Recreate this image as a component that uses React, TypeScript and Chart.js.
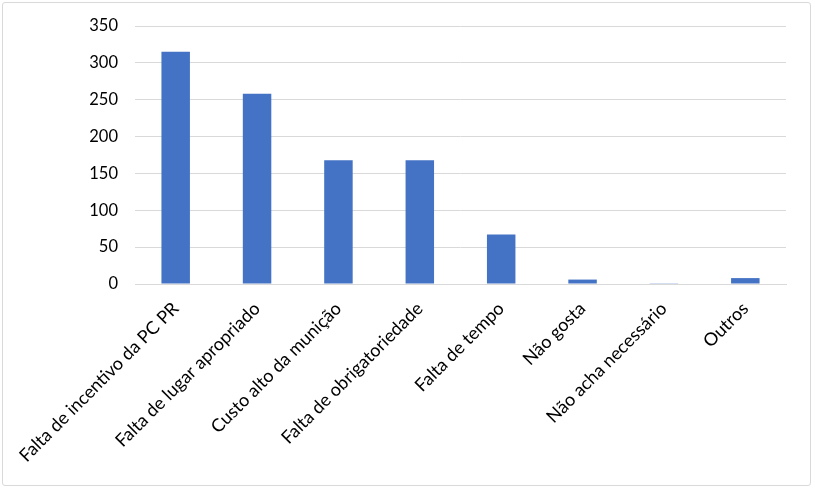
import { useEffect, useRef } from "react";
import { Chart, registerables } from "chart.js";

Chart.register(...registerables);

const categories = [
  "Falta de incentivo da PC PR",
  "Falta de lugar apropriado",
  "Custo alto da munição",
  "Falta de obrigatoriedade",
  "Falta de tempo",
  "Não gosta",
  "Não acha necessário",
  "Outros",
];
const counts = [315, 258, 168, 168, 67, 6, 1, 8];
const yTicks = [0, 50, 100, 150, 200, 250, 300, 350];

const FONT = "Lato, 'Open Sans', sans-serif";

export default function App() {
  const canvasRef = useRef<HTMLCanvasElement | null>(null);

  useEffect(() => {
    if (!canvasRef.current) {
      return;
    }

    const chart = new Chart(canvasRef.current, {
      type: "bar",
      data: {
        labels: categories,
        datasets: [
          {
            data: counts,
            backgroundColor: "#4472C4",
            barPercentage: 0.35,
            categoryPercentage: 1,
          },
        ],
      },
      options: {
        animation: false,
        responsive: false,
        maintainAspectRatio: false,
        layout: { padding: { top: 26, right: 29, bottom: 0, left: 0 } },
        plugins: {
          legend: { display: false },
          tooltip: { enabled: false },
        },
        scales: {
          x: {
            grid: { display: false, drawTicks: false },
            border: { display: true, color: "#d9d9d9", width: 1 },
            ticks: {
              autoSkip: false,
              maxRotation: 45,
              minRotation: 45,
              padding: 14,
              color: "#000",
              font: { family: FONT, size: 18 },
            },
            afterFit: (scale: any) => {
              scale.height = 207;
              scale.paddingLeft = 0;
              scale.paddingRight = 0;
            },
          },
          y: {
            min: 0,
            max: 350,
            afterBuildTicks: (scale: any) => {
              scale.ticks = yTicks.map((value) => ({ value }));
            },
            grid: { color: "#d9d9d9", drawTicks: false },
            border: { display: false },
            ticks: {
              padding: 17,
              color: "#000",
              font: { family: FONT, size: 16.5 },
            },
            afterFit: (scale: any) => {
              scale.width = 135;
              scale.paddingTop = 0;
              scale.paddingBottom = 0;
            },
          },
        },
      },
    });

    return () => {
      chart.destroy();
    };
  }, []);

  return (
    <div style={{ position: "absolute", left: 0, top: 0, width: 815, height: 491, background: "#fff" }}>
      <div
        style={{
          position: "absolute",
          left: 2,
          top: 2,
          width: 807,
          height: 482,
          border: "1px solid #d9d9d9",
          borderRadius: 3,
        }}
      />
      <canvas ref={canvasRef} width={815} height={491} style={{ position: "absolute", left: 0, top: 0 }} />
    </div>
  );
}
